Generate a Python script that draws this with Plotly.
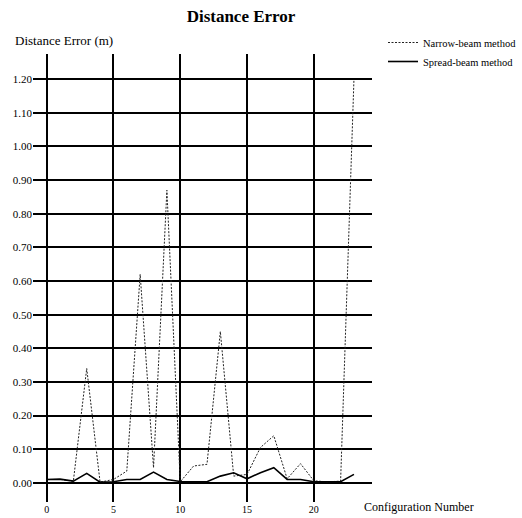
import plotly.graph_objects as go

config = list(range(24))
narrow_beam = [0.010, 0.010, 0.005, 0.340, 0.002, 0.010, 0.035, 0.620, 0.045, 0.870,
               0.003, 0.050, 0.055, 0.450, 0.020, 0.025, 0.105, 0.140, 0.012, 0.057,
               0.006, 0.003, 0.005, 1.200]
spread_beam = [0.010, 0.011, 0.005, 0.028, 0.002, 0.003, 0.010, 0.010, 0.032, 0.010,
               0.004, 0.003, 0.003, 0.020, 0.030, 0.012, 0.030, 0.045, 0.010, 0.010,
               0.003, 0.003, 0.003, 0.025]
x_ticks = [0, 5, 10, 15, 20]
y_ticks = [round(0.1 * i, 2) for i in range(13)]
y_tick_text = [f"{v:.2f}" for v in y_ticks]

SERIF = "Liberation Serif, Times New Roman, serif"

fig = go.Figure()
fig.add_trace(go.Scatter(
    x=config, y=narrow_beam, mode="lines", name="Narrow-beam method",
    line=dict(color="#222222", width=1, dash="2px,1.5px"),
))
fig.add_trace(go.Scatter(
    x=config, y=spread_beam, mode="lines", name="Spread-beam method",
    line=dict(color="black", width=1.6),
))

fig.update_layout(
    width=522, height=518,
    margin=dict(l=33, r=150, t=54, b=16),
    paper_bgcolor="white", plot_bgcolor="white",
    font=dict(family=SERIF, color="black"),
    title=dict(text="<b>Distance Error</b>", x=241 / 522, xanchor="center",
               y=1 - 16 / 518, yanchor="middle", font=dict(size=17, family=SERIF)),
    showlegend=True,
    legend=dict(xref="container", yref="container", x=383 / 522, xanchor="left",
                y=1 - 28 / 518, yanchor="top",
                font=dict(size=10.5, family=SERIF), bgcolor="rgba(0,0,0,0)",
                tracegroupgap=0, itemwidth=30),
    xaxis=dict(range=[-1.02, 24.35], tickmode="array", tickvals=x_ticks,
               ticktext=[str(v) for v in x_ticks], showgrid=True,
               gridcolor="black", gridwidth=2, zeroline=False, showline=False,
               ticks="", tickfont=dict(size=10, family=SERIF), automargin=False),
    yaxis=dict(range=[-0.057, 1.275], tickmode="array", tickvals=y_ticks,
               ticktext=y_tick_text, showgrid=True, gridcolor="black", gridwidth=2,
               zeroline=False, showline=False, ticks="", ticklabelstandoff=0,
               tickfont=dict(size=11, family=SERIF), automargin=False),
    annotations=[
        dict(text="Distance Error (m)", xref="paper", yref="paper",
             x=(13 - 33) / 339, y=(502 - 40) / 448, xanchor="left", yanchor="middle",
             showarrow=False, font=dict(size=13, family=SERIF)),
        dict(text="Configuration Number", xref="paper", yref="paper",
             x=(362 - 33) / 339, y=(502 - 507) / 448, xanchor="left", yanchor="middle",
             showarrow=False, font=dict(size=12, family=SERIF)),
    ],
)

fig.write_html("out.html", config={"displayModeBar": False},
               post_script="document.body.style.margin='0';document.body.style.overflow='hidden';")
